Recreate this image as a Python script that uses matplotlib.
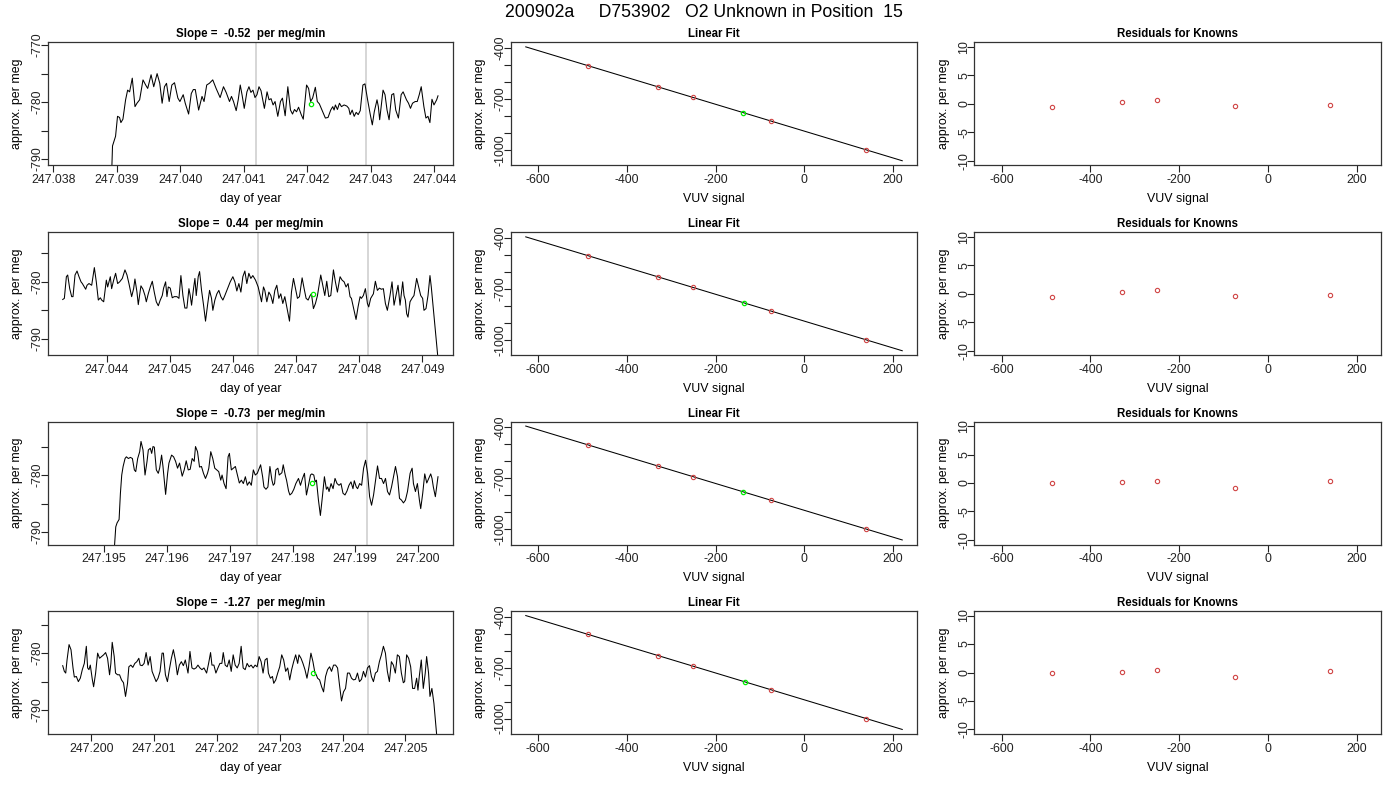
import numpy as np
import matplotlib
matplotlib.use("Agg")
import matplotlib.pyplot as plt
from matplotlib.ticker import MultipleLocator, FuncFormatter, FormatStrFormatter

plt.rcParams['font.family'] = ['Liberation Sans', 'DejaVu Sans']
plt.rcParams['axes.unicode_minus'] = False

# ---------------- data ----------------
suptitle_text = "200902a     D753902   O2 Unknown in Position  15"
slope_labels = ["-0.52", "0.44", "-0.73", "-1.27"]

# time series: day of year = base + offset * 1e-5
base1 = 247.038
off1 = [15, 60, 90, 93.4, 98.2, 101.3, 104.5, 106.6, 109.8, 114.0, 117.2, 120.3, 124.5, 128.8, 131.9, 136.1, 141.4, 145.6, 148.8, 154.1, 158.3, 163.6, 167.8, 171.5, 175.2, 178.4, 182.6, 186.8, 191.0, 196.3, 199.5, 204.7, 207.9, 213.2, 217.4, 220.6, 223.7, 229.0, 234.3, 237.5, 241.7, 245.9, 251.2, 256.5, 262.8, 268.1, 272.3, 277.6, 280.7, 283.9, 288.1, 291.3, 294.5, 297.6, 300.8, 305.0, 308.2, 311.3, 314.5, 317.7, 320.8, 324.0, 327.2, 332.5, 336.7, 339.8, 343.0, 346.2, 349.3, 353.6, 357.8, 360.9, 365.2, 369.4, 373.6, 376.8, 379.9, 383.1, 386.3, 390.5, 393.7, 398.9, 402.1, 405.3, 408.4, 412.7, 415.8, 419.0, 423.2, 428.5, 432.7, 436.9, 440.1, 442.2, 444.3, 447.5, 450.7, 453.8, 458.0, 462.3, 465.4, 467.5, 470.7, 473.9, 477.0, 480.2, 483.4, 487.6, 490.8, 495.0, 499.2, 502.4, 505.5, 509.8, 511.9, 514.0, 519.3, 522.4, 525.6, 528.8, 533.0, 536.1, 539.3, 543.5, 547.8, 550.9, 556.2, 559.4, 562.5, 565.7, 569.9, 573.1, 576.3, 579.4, 583.6, 586.8, 590.0, 593.1, 596.3, 599.5, 603.7, 605.8]
val1 = [-850, -815, -800, -787.7, -786.0, -782.5, -782.7, -783.6, -783.0, -779.6, -777.9, -778.2, -775.8, -780.8, -780.2, -779.6, -776.1, -777.0, -777.6, -775.2, -777.3, -775.0, -776.7, -780.2, -777.3, -776.7, -779.9, -777.0, -776.6, -779.3, -779.9, -778.7, -780.2, -782.1, -778.5, -777.8, -777.8, -781.4, -779.0, -779.9, -777.0, -776.7, -776.1, -777.6, -779.2, -777.3, -778.3, -779.9, -779.0, -779.9, -781.5, -779.6, -777.0, -778.9, -781.1, -778.2, -777.3, -778.3, -777.9, -779.2, -778.7, -777.3, -778.0, -781.1, -778.2, -779.6, -779.4, -780.5, -779.9, -782.5, -779.9, -779.3, -782.4, -777.3, -781.4, -782.1, -781.3, -781.7, -780.9, -782.2, -783.0, -777.0, -777.6, -779.9, -779.3, -777.4, -779.9, -780.3, -781.4, -782.8, -782.7, -781.4, -780.8, -781.4, -780.5, -781.3, -780.2, -780.8, -780.5, -780.7, -781.1, -782.2, -781.4, -782.5, -781.8, -782.2, -781.5, -777.0, -776.8, -779.6, -782.2, -784.0, -781.7, -779.6, -780.8, -783.1, -777.9, -778.7, -781.4, -783.1, -778.7, -778.5, -781.4, -782.8, -778.7, -778.2, -779.6, -780.2, -781.1, -780.2, -779.9, -779.9, -778.7, -777.3, -780.8, -782.8, -782.5, -783.6, -779.5, -780.5, -779.6, -778.9]

base2 = 247.044
off2 = [-69.6, -67.0, -63.8, -61.7, -58.5, -55.4, -53.3, -50.1, -46.9, -43.8, -40.6, -38.5, -35.3, -33.2, -31.1, -28.0, -23.7, -19.5, -16.4, -13.2, -10.0, -7.9, -4.7, -0.5, 1.6, 5.8, 7.9, 11.1, 14.2, 17.4, 20.6, 24.8, 29.0, 32.2, 35.3, 39.6, 42.7, 44.8, 48.0, 50.1, 54.3, 57.5, 60.7, 62.8, 65.9, 69.1, 72.3, 75.4, 78.6, 81.8, 84.9, 88.1, 90.2, 93.4, 95.5, 97.6, 100.7, 103.9, 107.1, 111.3, 114.5, 117.6, 120.8, 123.9, 127.1, 130.3, 132.4, 134.5, 137.7, 139.8, 141.9, 145.0, 147.2, 150.3, 153.5, 156.6, 159.8, 163.0, 166.1, 168.2, 171.4, 174.6, 177.7, 180.9, 184.1, 187.2, 191.5, 195.7, 199.9, 203.1, 206.2, 209.4, 212.6, 215.7, 218.9, 222.0, 225.2, 228.4, 231.5, 235.8, 240.0, 243.1, 245.3, 248.4, 250.5, 253.7, 256.9, 260.0, 263.2, 266.4, 269.5, 272.7, 275.8, 279.0, 282.2, 285.3, 289.6, 292.7, 295.9, 299.1, 302.2, 305.4, 309.6, 312.8, 315.9, 319.1, 322.3, 324.4, 327.5, 330.7, 333.9, 336.0, 339.1, 342.3, 345.5, 348.6, 351.8, 355.0, 359.2, 362.3, 365.5, 369.7, 372.9, 376.1, 379.2, 382.4, 385.5, 387.7, 391.9, 395.0, 398.2, 401.4, 403.5, 406.6, 409.8, 413.0, 415.1, 418.2, 422.5, 425.6, 428.8, 432.0, 435.1, 438.3, 441.5, 444.6, 448.8, 452.0, 455.2, 458.3, 461.5, 464.7, 468.9, 471.0, 473.1, 475.2, 477.3, 480.5, 483.6, 486.8, 491.0, 494.2, 497.4, 500.5, 502.6, 505.8, 509.0, 512.1, 514.2, 524.8]
val2 = [-783.1, -782.9, -779.1, -778.8, -781.2, -782.6, -782.6, -778.8, -778.1, -779.1, -780.0, -780.3, -780.9, -781.3, -780.6, -780.3, -780.6, -777.5, -780.0, -783.2, -782.8, -783.2, -783.5, -779.7, -780.9, -779.1, -781.2, -779.7, -778.5, -780.3, -780.0, -779.4, -777.9, -778.8, -780.3, -782.6, -781.2, -779.5, -781.8, -784.0, -780.7, -781.3, -782.4, -783.5, -782.1, -780.9, -779.9, -781.8, -783.5, -784.2, -783.2, -782.4, -781.1, -780.0, -782.6, -780.9, -781.1, -782.8, -782.6, -782.6, -782.9, -778.9, -782.4, -784.6, -784.6, -781.2, -782.4, -784.1, -781.1, -779.4, -782.4, -779.1, -778.2, -781.5, -784.1, -786.9, -784.1, -781.5, -782.9, -785.0, -783.2, -782.1, -781.5, -782.6, -783.2, -782.4, -781.2, -780.0, -779.1, -780.0, -781.6, -780.3, -781.8, -779.1, -778.1, -780.3, -778.5, -779.4, -778.9, -779.7, -780.9, -782.4, -783.5, -780.9, -781.5, -783.5, -781.8, -782.4, -783.8, -781.5, -780.6, -782.9, -782.1, -783.8, -782.6, -784.4, -786.9, -781.8, -779.4, -781.2, -782.9, -782.6, -779.3, -781.2, -782.9, -783.2, -782.4, -782.1, -784.7, -783.8, -782.4, -780.9, -778.8, -780.6, -782.4, -779.9, -782.6, -782.4, -777.9, -780.0, -781.8, -779.1, -779.7, -780.0, -780.9, -780.3, -782.6, -782.9, -785.0, -786.6, -784.4, -782.6, -782.9, -782.4, -781.2, -783.8, -784.4, -782.9, -782.1, -779.9, -781.5, -781.1, -781.3, -781.2, -783.8, -785.0, -782.4, -780.0, -784.1, -782.4, -780.6, -784.1, -780.0, -782.4, -783.2, -785.6, -786.2, -783.5, -782.9, -782.4, -779.4, -780.9, -782.4, -782.9, -785.0, -784.7, -782.4, -778.9, -780.9, -793.5]

base3 = 247.195
off3 = [-66, 0, 15, 18.5, 20.6, 23.8, 25.9, 28.0, 30.2, 33.3, 35.4, 38.6, 41.8, 45.0, 48.1, 50.3, 53.4, 56.6, 58.7, 61.9, 65.1, 68.3, 70.4, 73.5, 75.7, 77.8, 79.9, 83.1, 86.2, 88.4, 91.5, 93.7, 97.9, 101.1, 103.2, 107.4, 110.6, 113.8, 116.9, 120.1, 124.3, 127.5, 130.7, 133.9, 137.0, 140.2, 143.4, 145.5, 148.7, 151.9, 155.0, 158.2, 161.4, 164.6, 166.7, 169.8, 173.0, 176.2, 179.4, 182.5, 185.7, 187.8, 191.0, 194.2, 197.4, 199.5, 202.6, 205.8, 209.0, 212.2, 215.3, 218.5, 221.7, 224.9, 228.0, 231.2, 234.4, 237.6, 240.7, 243.9, 247.1, 249.2, 252.4, 254.5, 257.7, 260.8, 264.0, 267.2, 269.3, 271.4, 273.5, 276.7, 278.8, 283.1, 285.2, 288.4, 290.5, 293.7, 295.8, 298.9, 302.1, 305.3, 309.5, 312.7, 315.9, 319.0, 322.2, 325.4, 328.6, 330.7, 333.9, 336.0, 338.1, 341.3, 344.4, 347.6, 350.8, 354.0, 356.1, 358.2, 361.4, 364.6, 367.7, 370.9, 374.1, 377.2, 380.4, 383.6, 386.8, 389.9, 393.1, 396.3, 398.4, 401.6, 403.7, 406.9, 410.1, 413.2, 416.4, 419.6, 422.8, 425.9, 429.1, 432.3, 435.4, 438.6, 441.8, 445.0, 448.1, 451.3, 454.5, 457.7, 460.8, 464.0, 467.2, 470.4, 473.5, 476.7, 479.9, 483.1, 487.3, 490.5, 492.6, 495.8, 498.9, 502.1, 504.2, 507.4, 510.6, 513.8, 516.9, 520.1, 522.2, 524.3, 527.5, 531.7]
val3 = [-850, -820, -795, -789.1, -788.4, -787.8, -783.2, -780.0, -778.5, -777.1, -776.8, -777.1, -776.9, -777.1, -779.1, -779.4, -777.1, -775.9, -774.1, -775.6, -780.0, -777.6, -775.6, -775.3, -776.2, -775.0, -775.1, -779.1, -779.7, -778.8, -776.5, -778.5, -783.4, -779.7, -777.9, -776.5, -776.8, -777.6, -778.8, -777.9, -780.2, -779.1, -777.5, -779.1, -779.0, -777.1, -777.6, -775.0, -775.9, -778.6, -778.5, -779.7, -780.6, -779.7, -778.8, -775.9, -777.1, -778.8, -779.1, -779.4, -780.9, -780.0, -781.5, -782.4, -776.8, -776.2, -779.1, -778.8, -778.5, -780.0, -781.4, -780.9, -781.5, -780.3, -781.8, -781.2, -781.8, -779.1, -780.0, -779.7, -778.8, -778.2, -780.3, -782.1, -782.5, -782.1, -778.5, -780.9, -781.8, -781.5, -779.1, -778.8, -780.0, -779.6, -778.2, -780.0, -780.9, -782.8, -783.5, -783.2, -782.5, -781.5, -780.6, -781.8, -780.6, -779.7, -783.5, -781.8, -780.0, -779.8, -780.0, -781.2, -780.9, -784.4, -787.1, -783.8, -780.3, -782.5, -782.1, -782.9, -781.5, -782.4, -780.6, -781.5, -781.8, -781.5, -783.2, -783.5, -782.8, -781.8, -781.2, -782.4, -781.0, -782.1, -782.4, -781.5, -781.8, -778.8, -777.4, -779.7, -783.8, -785.3, -783.5, -780.9, -778.4, -780.6, -780.6, -781.5, -780.6, -782.9, -783.5, -782.1, -780.3, -778.5, -780.3, -784.1, -784.4, -784.9, -784.4, -782.9, -779.7, -778.8, -781.5, -782.9, -781.5, -784.4, -785.9, -783.2, -779.8, -781.4, -780.6, -779.8, -780.6, -782.1, -783.8, -780.3]

base4 = 247.200
off4 = [-45.5, -42.9, -40.7, -38.6, -35.4, -32.3, -29.1, -27.0, -23.8, -20.6, -17.5, -14.3, -11.1, -7.9, -5.8, -3.7, -1.6, 1.6, 3.7, 6.9, 10.1, 13.2, 16.4, 19.6, 22.8, 25.9, 29.1, 31.2, 33.3, 36.5, 38.6, 41.8, 45.0, 48.1, 51.3, 54.5, 57.7, 59.8, 63.0, 66.1, 69.3, 72.5, 75.7, 77.8, 81.0, 84.1, 87.3, 90.5, 93.7, 96.8, 100.0, 103.2, 106.3, 109.5, 112.7, 114.8, 118.0, 121.2, 124.3, 127.5, 130.7, 133.9, 137.0, 140.2, 143.4, 146.6, 149.7, 154.0, 157.1, 160.3, 163.5, 166.7, 169.8, 173.0, 176.2, 179.4, 183.6, 186.8, 189.9, 192.1, 195.2, 198.4, 201.6, 204.8, 207.9, 210.1, 213.2, 216.4, 219.6, 222.8, 225.9, 229.1, 232.3, 235.4, 238.6, 241.8, 245.0, 248.1, 251.3, 254.5, 257.7, 260.8, 264.0, 267.2, 270.4, 273.5, 276.7, 279.9, 282.0, 285.2, 288.4, 290.5, 293.7, 296.8, 300.0, 303.2, 306.3, 309.5, 312.7, 315.9, 319.0, 322.2, 325.4, 328.6, 330.7, 333.9, 337.0, 340.2, 343.4, 346.6, 349.7, 352.9, 356.1, 358.2, 360.3, 363.5, 366.7, 369.8, 373.0, 376.2, 379.4, 382.5, 385.7, 388.9, 392.1, 395.2, 398.4, 401.6, 404.8, 407.9, 411.1, 414.3, 417.5, 420.6, 423.8, 427.0, 430.2, 433.3, 436.5, 439.7, 442.9, 446.0, 449.2, 452.4, 455.6, 458.7, 461.9, 465.1, 468.3, 471.4, 474.6, 477.8, 481.0, 484.1, 487.3, 490.5, 493.7, 496.8, 498.9, 502.1, 505.3, 508.5, 511.6, 514.8, 518.0, 520.1, 522.2, 525.4, 528.6, 531.7, 533.9, 537.0, 539.2, 542.3, 545.5, 552.0]
val4 = [-782.2, -783.2, -783.5, -781.2, -778.5, -779.4, -782.6, -784.2, -784.1, -785.0, -784.4, -782.9, -781.8, -778.8, -782.6, -782.9, -782.1, -784.6, -785.9, -783.5, -780.0, -780.9, -780.6, -780.3, -779.9, -780.9, -783.8, -781.8, -778.1, -780.6, -783.5, -783.8, -783.8, -784.7, -785.2, -787.6, -785.3, -782.4, -782.1, -782.5, -781.8, -781.5, -780.9, -782.1, -782.2, -781.8, -779.9, -782.1, -780.6, -783.2, -784.1, -785.0, -784.4, -783.2, -780.0, -780.0, -783.8, -785.0, -782.9, -780.9, -779.4, -781.2, -783.8, -782.1, -781.5, -782.2, -781.2, -783.5, -779.7, -782.6, -782.8, -782.6, -782.1, -782.6, -782.9, -782.6, -783.5, -781.8, -779.9, -782.1, -782.1, -783.5, -782.6, -781.8, -781.8, -779.9, -782.1, -782.4, -781.2, -783.2, -780.3, -782.1, -782.6, -781.8, -778.8, -782.6, -782.9, -781.8, -782.4, -782.1, -782.6, -782.1, -782.4, -780.6, -781.5, -783.5, -781.2, -780.9, -783.5, -784.4, -784.1, -785.3, -784.7, -783.5, -782.4, -780.3, -781.2, -783.2, -782.6, -784.7, -782.9, -781.5, -780.3, -781.8, -780.3, -780.9, -781.8, -782.9, -784.4, -782.4, -780.0, -781.5, -783.5, -783.8, -784.4, -784.7, -785.9, -786.8, -784.1, -782.9, -782.4, -783.2, -782.1, -782.1, -782.6, -785.6, -788.4, -786.8, -786.2, -783.5, -783.5, -784.4, -784.7, -784.6, -783.5, -785.0, -784.6, -783.2, -784.2, -782.6, -782.2, -784.1, -785.0, -783.5, -783.2, -781.5, -780.3, -778.8, -780.0, -783.2, -785.0, -781.5, -782.1, -783.5, -780.3, -780.6, -783.5, -785.2, -785.0, -780.3, -780.9, -782.4, -786.2, -786.2, -784.4, -786.5, -784.1, -781.2, -786.2, -783.5, -780.6, -783.5, -787.6, -786.2, -788.8, -797.0]

bases = [base1, base2, base3, base4]
offsets = [off1, off2, off3, off4]
values = [val1, val2, val3, val4]

# vertical marker lines (day of year) and unknown (green) point per row
grey_lines = [[247.04119, 247.04293], [247.04640, 247.04814],
              [247.19744, 247.19919], [247.20266, 247.20440]]
unknown_day = [247.042063, 247.04727, 247.198317, 247.203529]
unknown_value = [-780.3, -782.1, -781.4, -783.4]
unknown_vuv = [-137.5, -136.5, -137.0, -134.5]

# knowns (linear fit)
known_vuv = [-487, -330, -250, -75, 140]
known_val = [[-504.6, -628.0, -690.8, -830.3, -1000.2],
             [-504.7, -627.9, -690.9, -830.3, -1000.2],
             [-504.1, -628.2, -691.1, -831.0, -999.6],
             [-504.2, -628.2, -691.0, -830.8, -999.7]]
residuals = [[-0.6, 0.35, 0.7, -0.3, -0.2],
             [-0.6, 0.35, 0.65, -0.3, -0.2],
             [0.0, 0.1, 0.4, -0.95, 0.4],
             [-0.05, 0.1, 0.45, -0.8, 0.35]]
fit_vuv_range = [-628, 221]

# ---------------- layout ----------------
W, H = 1400, 800
fig = plt.figure(figsize=(14, 8), dpi=100)
col_left = [47.7, 510.7, 974.3]
col_w = [405.3, 406.6, 406.7]
row_top = [42.3, 232.3, 421.5, 611.0]
row_h = 123.0

TXT = 8.9
TTL = 8.3
RED = '#d04545'
GREEN = '#00ee00'


def add_ax(r, c):
    return fig.add_axes([col_left[c] / W, 1 - (row_top[r] + row_h) / H,
                         col_w[c] / W, row_h / H])


def style(ax):
    for s in ax.spines.values():
        s.set_color('#333333')
        s.set_linewidth(0.9)
    ax.tick_params(direction='out', length=5, width=0.8, colors='#222222',
                   labelsize=TXT, pad=1.3)
    ax.tick_params(axis='y', labelrotation=90, pad=-2.0)
    plt.setp(ax.get_yticklabels(), va='center')


def r_expand(lo, hi, f=0.04):
    d = (hi - lo) * f
    return lo - d, hi + d


def lab10(v, pos):
    return '%d' % round(v) if abs(round(v) % 10) < 1e-6 else ''


def lab300(v, pos):
    return '%d' % round(v) if abs((round(v) + 400) % 300) < 1e-6 else ''


for r in range(4):
    # ---- time series ----
    ax = add_ax(r, 0)
    day = bases[r] + np.array(offsets[r]) * 1e-5
    val = np.array(values[r])
    for g in grey_lines[r]:
        ax.axvline(g, color='#d3d3d3', lw=1.3, zorder=0)
    ax.plot(day, val, color='black', lw=0.75)
    ax.plot([unknown_day[r]], [unknown_value[r]], 'o', mfc='none', mec=GREEN,
            ms=3.1, mew=0.9)
    ax.set_xlim(*r_expand(day.min(), day.max()))
    ax.set_ylim(*r_expand(unknown_value[r] - 10, unknown_value[r] + 10))
    ax.xaxis.set_major_locator(MultipleLocator(0.001))
    ax.xaxis.set_major_formatter(FormatStrFormatter('%.3f'))
    ax.yaxis.set_major_locator(MultipleLocator(5))
    ax.yaxis.set_major_formatter(FuncFormatter(lab10))
    style(ax)
    ax.set_title("Slope =  %s  per meg/min" % slope_labels[r], fontsize=TTL,
                 fontweight='bold', pad=3.5)
    ax.set_xlabel("day of year", fontsize=TXT, labelpad=5)
    ax.set_ylabel("approx. per meg", fontsize=TXT, labelpad=6)

    # ---- linear fit ----
    ax = add_ax(r, 1)
    coef = np.polyfit(known_vuv, known_val[r], 1)
    lx = np.array(fit_vuv_range, dtype=float)
    ly = np.polyval(coef, lx)
    ax.plot(lx, ly, color='black', lw=0.75)
    ax.plot(known_vuv, known_val[r], 'o', mfc='none', mec=RED, ms=3.1, mew=0.8)
    ax.plot([unknown_vuv[r]], [unknown_value[r]], 'o', mfc='none', mec=GREEN,
            ms=3.1, mew=0.9)
    xl = r_expand(*fit_vuv_range)
    ax.set_xlim(*xl)
    ax.set_ylim(*r_expand(ly.min(), ly.max()))
    ax.xaxis.set_major_locator(MultipleLocator(200))
    ax.yaxis.set_major_locator(MultipleLocator(100))
    ax.yaxis.set_major_formatter(FuncFormatter(lab300))
    style(ax)
    ax.set_title("Linear Fit", fontsize=TTL, fontweight='bold', pad=3.5)
    ax.set_xlabel("VUV signal", fontsize=TXT, labelpad=5)
    ax.set_ylabel("approx. per meg", fontsize=TXT, labelpad=6)

    # ---- residuals ----
    ax = add_ax(r, 2)
    ax.plot(known_vuv, residuals[r], 'o', mfc='none', mec=RED, ms=3.1, mew=0.8)
    ax.set_xlim(*xl)
    ax.set_ylim(*r_expand(-10, 10))
    ax.xaxis.set_major_locator(MultipleLocator(200))
    ax.yaxis.set_major_locator(MultipleLocator(5))
    ax.yaxis.set_major_formatter(FormatStrFormatter('%d'))
    style(ax)
    ax.set_title("Residuals for Knowns", fontsize=TTL, fontweight='bold', pad=3.5)
    ax.set_xlabel("VUV signal", fontsize=TXT, labelpad=5)
    ax.set_ylabel("approx. per meg", fontsize=TXT, labelpad=6)

fig.text(0.503, 1 - 16.7 / H, suptitle_text, ha='center', va='baseline',
         fontsize=12.7)

fig.savefig("out.png", dpi=100)
